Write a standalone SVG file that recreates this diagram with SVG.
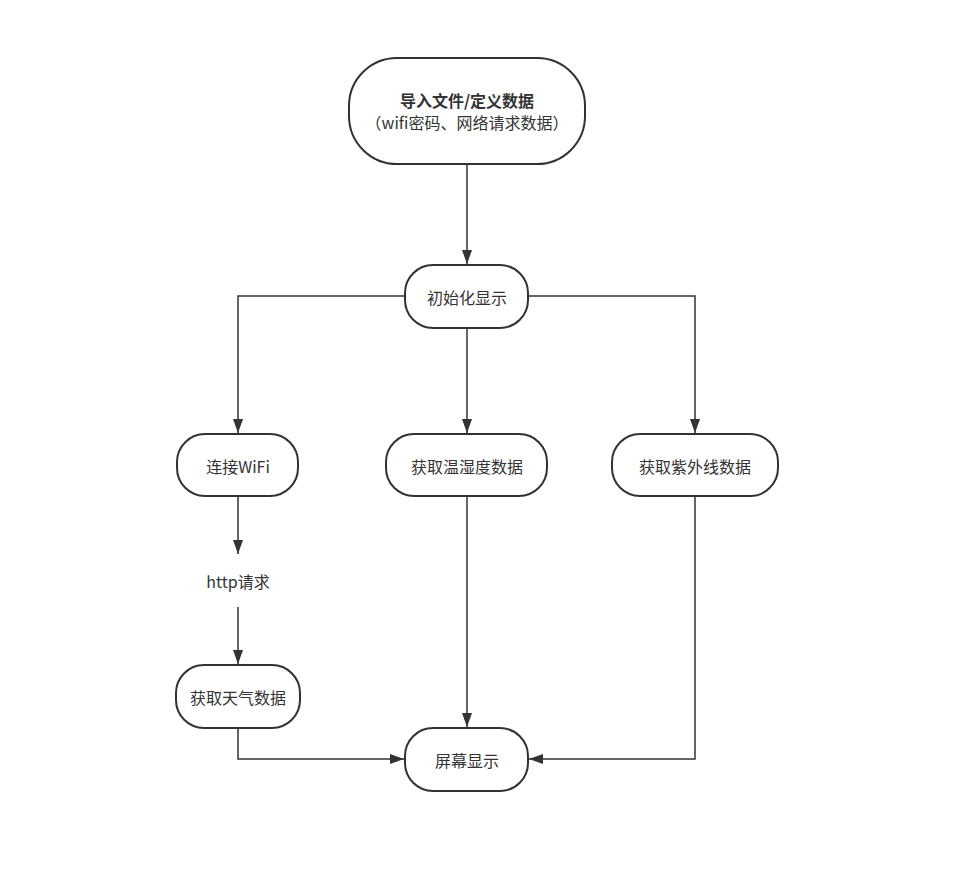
<svg xmlns="http://www.w3.org/2000/svg" width="957" height="871" viewBox="0 0 957 871">
<style>
.n rect{fill:#fff;stroke:#323232;stroke-width:2}
text{font-family:"Noto Sans CJK SC","Noto Sans",sans-serif;font-size:16px;fill:#333;text-anchor:middle;dominant-baseline:central}
.e{fill:none;stroke:#333;stroke-width:1.5}
</style>
<defs>
<marker id="a" viewBox="0 0 14 10" refX="14" refY="5" markerWidth="14" markerHeight="10" markerUnits="userSpaceOnUse" orient="auto"><path d="M0,0L14,5L0,10z" fill="#333"/></marker>
</defs>
<rect width="957" height="871" fill="#fff"/>
<g id="connectors">
<path class="e" d="M467,165V264" marker-end="url(#a)"/>
<path class="e" d="M405,296H238V433" marker-end="url(#a)"/>
<path class="e" d="M467,328V433" marker-end="url(#a)"/>
<path class="e" d="M528,296H695V433" marker-end="url(#a)"/>
<path class="e" d="M238,497V554" marker-end="url(#a)"/>
<path class="e" d="M238,607V664" marker-end="url(#a)"/>
<path class="e" d="M238,729V759H404" marker-end="url(#a)"/>
<path class="e" d="M467,497V727" marker-end="url(#a)"/>
<path class="e" d="M695,497V759H529" marker-end="url(#a)"/>
</g>
<g id="n1" class="n"><rect x="349" y="58" width="236" height="106" rx="48"/><text x="467" y="100" font-weight="bold" font-size="15.5">导入文件/定义数据</text><text x="467" y="122" font-size="15.5">（wifi密码、网络请求数据）</text></g>
<g id="n2" class="n"><rect x="405" y="265" width="123" height="63" rx="28"/><text x="467" y="297">初始化显示</text></g>
<g id="n3" class="n"><rect x="177" y="434" width="121" height="62" rx="28"/><text x="238" y="466">连接WiFi</text></g>
<g id="n4" class="n"><rect x="386" y="434" width="161" height="62" rx="28"/><text x="467" y="466">获取温湿度数据</text></g>
<g id="n5" class="n"><rect x="612" y="434" width="166" height="62" rx="28"/><text x="695" y="466">获取紫外线数据</text></g>
<g id="n6"><text x="238" y="581">http请求</text></g>
<g id="n7" class="n"><rect x="176" y="665" width="124" height="63" rx="28"/><text x="238" y="697">获取天气数据</text></g>
<g id="n8" class="n"><rect x="405" y="728" width="123" height="63" rx="28"/><text x="467" y="760">屏幕显示</text></g>
</svg>
